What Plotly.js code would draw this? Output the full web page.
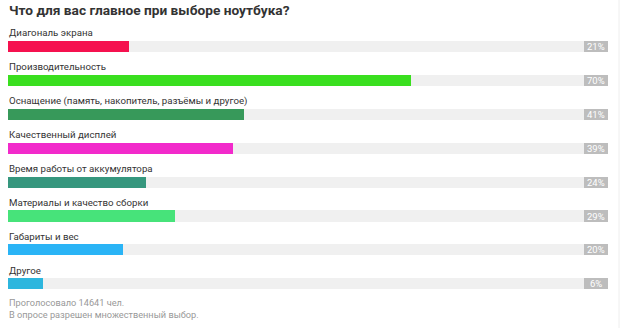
<!DOCTYPE html>
<html>
<head>
<meta charset="utf-8">
<script src="https://cdn.plot.ly/plotly-3.0.1.min.js"></script>
<style>html,body{margin:0;padding:0;background:#fff;}#chart{width:620px;height:335px;}</style>
</head>
<body>
<div id="chart"></div>
<script>
const categories = [
  "Диагональ экрана",
  "Производительность",
  "Оснащение (память, накопитель, разъёмы и другое)",
  "Качественный дисплей",
  "Время работы от аккумулятора",
  "Материалы и качество сборки",
  "Габариты и вес",
  "Другое"
];
const values = [21, 70, 41, 39, 24, 29, 20, 6];
const colors = ["#F5114F", "#3ADF1F", "#37995A", "#F22ACB", "#36977E", "#47E37A", "#2AB4F6", "#2DB6DE"];
const titleText = "Что для вас главное при выборе ноутбука?";
const footerLines = ["Проголосовало 14641 чел.", "В опросе разрешен множественный выбор."];

const FONT = "Roboto, 'Noto Sans', sans-serif";
const rows = categories.map((_, i) => i);
const barW = 0.33;
const boxW = 100 * 24 / 576;

const track = {
  type: 'bar', orientation: 'h', x: categories.map(() => 100), y: rows, base: 0,
  width: barW, marker: {color: '#F0F0F0'}, hoverinfo: 'skip', showlegend: false
};
const bars = {
  type: 'bar', orientation: 'h', x: values, y: rows, base: 0,
  width: barW, marker: {color: colors}, hoverinfo: 'skip', showlegend: false
};
const boxes = {
  type: 'bar', orientation: 'h', x: categories.map(() => boxW), y: rows, base: 100,
  width: barW, marker: {color: '#BDBDBD'}, hoverinfo: 'skip', showlegend: false
};

const annotations = categories.map((c, i) => ({
  x: 0, y: i - 0.40, xref: 'x', yref: 'y', text: c, showarrow: false,
  xanchor: 'left', yanchor: 'middle', xshift: -1,
  font: {family: FONT, size: 9.7, color: '#333333'}
}));
values.forEach((v, i) => annotations.push({
  x: 100 + boxW / 2, y: i, xref: 'x', yref: 'y', text: v + '%', showarrow: false,
  xanchor: 'center', yanchor: 'middle',
  font: {family: FONT, size: 9.5, color: '#FFFFFF'}
}));
annotations.push({
  x: 0, y: -1.07, xref: 'x', yref: 'y', text: '<b>' + titleText + '</b>', showarrow: false,
  xanchor: 'left', yanchor: 'middle', xshift: -1,
  font: {family: FONT, size: 13.7, color: '#333333'}
});
footerLines.forEach((t, k) => annotations.push({
  x: 0, y: 7.54 + k * 0.36, xref: 'x', yref: 'y', text: t, showarrow: false,
  xanchor: 'left', yanchor: 'middle', xshift: -1,
  font: {family: FONT, size: 9.2, color: '#999999'}
}));

const layout = {
  width: 620, height: 335,
  margin: {l: 8, r: 12, t: 0, b: 0, pad: 0},
  paper_bgcolor: '#FFFFFF', plot_bgcolor: '#FFFFFF',
  barmode: 'overlay', bargap: 0,
  xaxis: {range: [0, 100 * 600 / 576], visible: false, fixedrange: true},
  yaxis: {range: [(335 - 46.5) / 33.9, -46.5 / 33.9], visible: false, fixedrange: true},
  annotations: annotations,
  shapes: [{type: 'line', xref: 'paper', yref: 'paper', x0: 611 / 600, x1: 611 / 600, y0: 7 / 335, y1: 1,
            line: {color: '#EEEEEE', width: 1}}],
  showlegend: false
};

Plotly.newPlot('chart', [track, bars, boxes], layout, {staticPlot: true, displayModeBar: false});
</script>
</body>
</html>
